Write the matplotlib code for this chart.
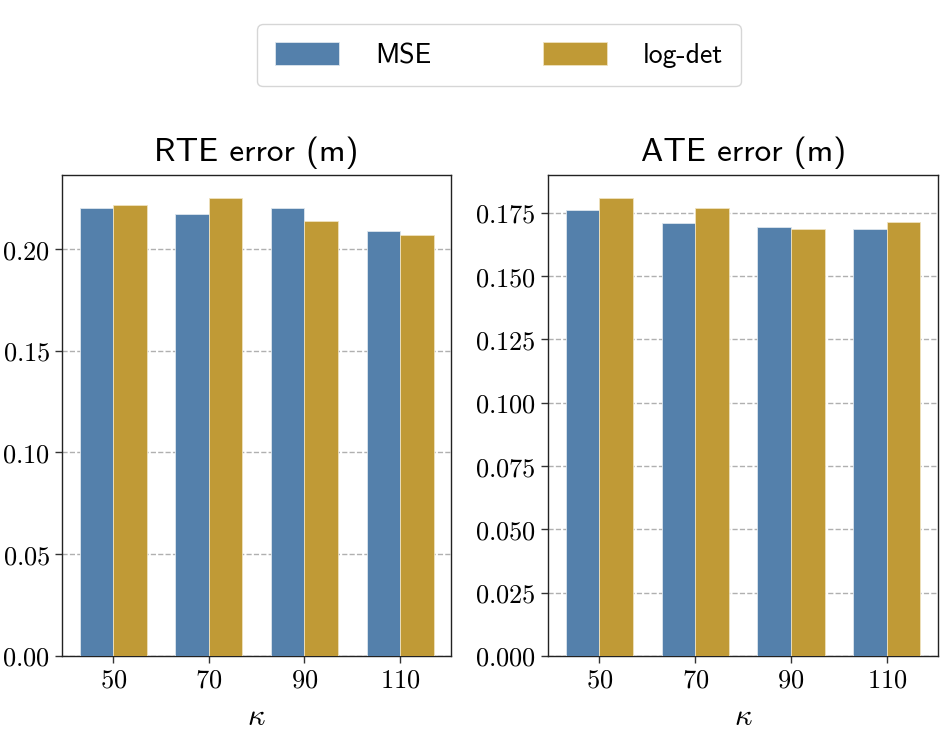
import matplotlib
matplotlib.use('Agg')
import matplotlib.pyplot as plt
import numpy as np
from matplotlib.ticker import FuncFormatter

plt.rcParams['mathtext.fontset'] = 'cm'

# data
kappa = ['50', '70', '90', '110']
rte_mse = [0.2201, 0.2172, 0.2201, 0.2088]
rte_logdet = [0.2216, 0.2251, 0.2138, 0.2069]
ate_mse = [0.1762, 0.1709, 0.1696, 0.1687]
ate_logdet = [0.1809, 0.1770, 0.1686, 0.1713]

c_mse = '#5480AB'
c_logdet = '#C09A36'
width = 0.35

fig = plt.figure(figsize=(9.47, 7.36), dpi=100)
ax1 = fig.add_axes([0.0655, 0.1087, 0.411, 0.6535])
ax2 = fig.add_axes([0.5787, 0.1087, 0.412, 0.6535])

x = np.arange(len(kappa))

def draw(ax, mse, logdet, title, fmt):
    b1 = ax.bar(x - width / 2, mse, width, color=c_mse, edgecolor='#dde6ee', linewidth=0.6, label='MSE', zorder=3)
    b2 = ax.bar(x + width / 2, logdet, width, color=c_logdet, edgecolor='#efe2bf', linewidth=0.6, label='log-det', zorder=3)
    ax.yaxis.grid(True, linestyle='--', color='#b0b0b0', linewidth=1.0, zorder=0)
    ax.set_axisbelow(True)
    ax.set_xticks(x)
    ax.set_xticklabels(['$%s$' % k for k in kappa])
    ax.yaxis.set_major_formatter(FuncFormatter(lambda v, p: '$' + (fmt % v) + '$'))
    ax.tick_params(labelsize=19, length=5, width=1, color='#333333')
    ax.set_xlabel(r'$\kappa$', fontsize=22, labelpad=6)
    ax.set_title(title, family='cmss10', fontsize=24, pad=10)
    for s in ax.spines.values():
        s.set_color('#222222')
        s.set_linewidth(1.0)
    return b1, b2

b1, b2 = draw(ax1, rte_mse, rte_logdet, 'RTE error (m)', '%.2f')
draw(ax2, ate_mse, ate_logdet, 'ATE error (m)', '%.3f')
ax1.set_yticks(np.arange(0, 0.21, 0.05))
ax2.set_yticks(np.arange(0, 0.176, 0.025))

leg = fig.legend([b1, b2], ['MSE', 'log-det'], loc='center', bbox_to_anchor=(0.527, 0.925),
                 ncol=2, prop={'family': 'cmss10', 'size': 20}, handlelength=2.3, handleheight=0.85,
                 columnspacing=4.0, handletextpad=1.3, borderpad=0.65, fancybox=True)
leg.get_frame().set_edgecolor('#cccccc')

plt.savefig('out.png', dpi=100)
